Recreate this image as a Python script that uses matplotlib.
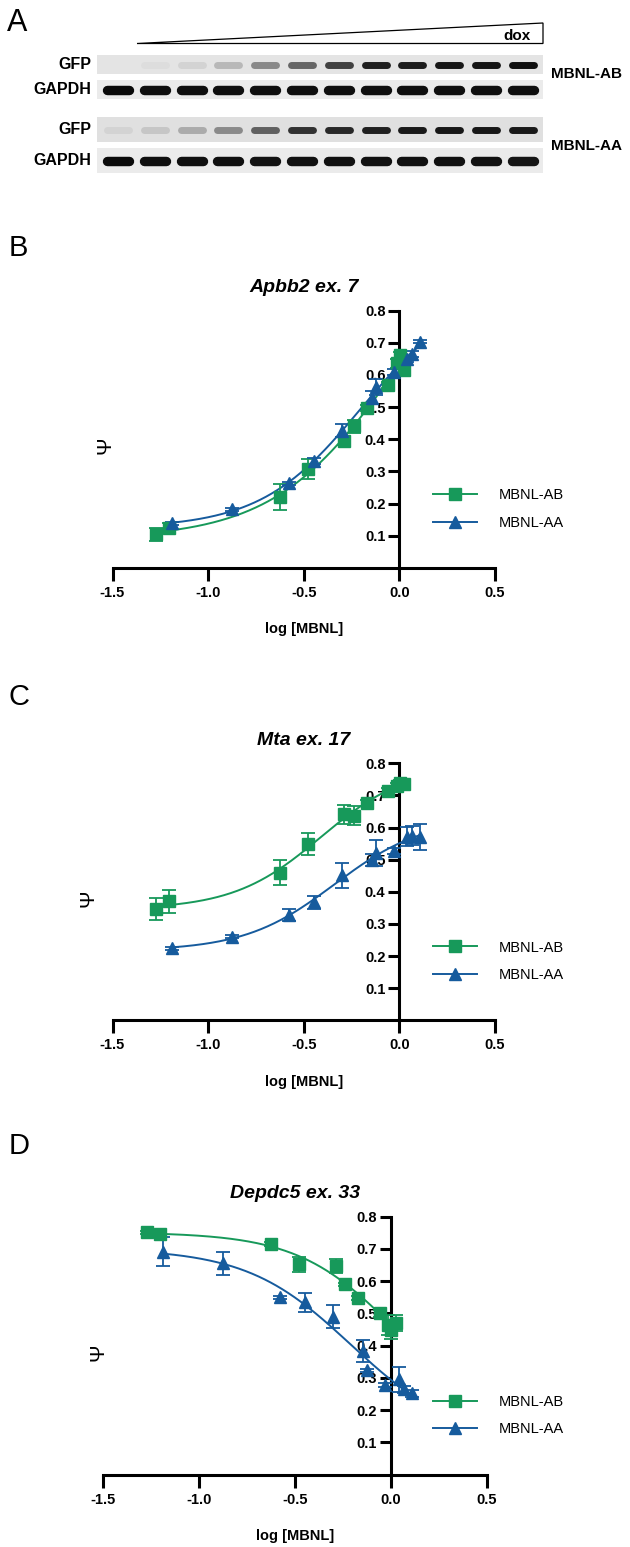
import numpy as np
import matplotlib
matplotlib.use('Agg')
import matplotlib.pyplot as plt
from matplotlib.lines import Line2D
from matplotlib.patches import Polygon

plt.rcParams['font.family'] = ['Liberation Sans', 'DejaVu Sans']

W, H = 630, 1547
GREEN = '#17995a'
BLUE = '#165b9d'

# ---- panel A: western blot (band intensity, 0 = none, 1 = saturated) ----
lanes = np.arange(12)
gfp_ab = [0.0, 0.03, 0.08, 0.2, 0.42, 0.58, 0.75, 0.9, 0.92, 0.94, 0.95, 0.98]
gapdh_ab = [1.0, 0.98, 0.98, 0.98, 0.98, 0.98, 0.98, 0.98, 0.98, 0.98, 0.98, 0.98]
gfp_aa = [0.06, 0.12, 0.25, 0.4, 0.6, 0.82, 0.86, 0.9, 0.93, 0.94, 0.94, 0.93]
gapdh_aa = [1.0, 0.98, 0.98, 0.98, 0.96, 0.97, 0.97, 0.97, 0.97, 0.97, 0.97, 0.95]

# ---- dose response (log [MBNL]) ----
ab_x = [-1.273, -1.203, -0.625, -0.479, -0.287, -0.237, -0.170, -0.058, -0.015, 0.002, 0.026]
aa_x = [-1.188, -0.877, -0.577, -0.446, -0.300, -0.145, -0.124, -0.030, 0.041, 0.067, 0.110]

apbb2_ab = [0.104, 0.123, 0.221, 0.307, 0.395, 0.441, 0.498, 0.569, 0.636, 0.662, 0.617]
apbb2_ab_err = [0.02, 0.015, 0.04, 0.03, 0.012, 0.02, 0.01, 0.01, 0.015, 0.01, 0.01]
apbb2_aa = [0.138, 0.182, 0.263, 0.332, 0.427, 0.529, 0.563, 0.610, 0.649, 0.665, 0.703]
apbb2_aa_err = [0.005, 0.005, 0.005, 0.01, 0.02, 0.02, 0.025, 0.01, 0.01, 0.01, 0.005]

mta_ab = [0.347, 0.370, 0.460, 0.549, 0.641, 0.637, 0.677, 0.714, 0.730, 0.738, 0.735]
mta_ab_err = [0.035, 0.037, 0.04, 0.035, 0.03, 0.03, 0.01, 0.01, 0.01, 0.01, 0.01]
mta_aa = [0.224, 0.260, 0.328, 0.367, 0.451, 0.499, 0.520, 0.527, 0.572, 0.575, 0.570]
mta_aa_err = [0.005, 0.005, 0.02, 0.02, 0.04, 0.02, 0.04, 0.01, 0.03, 0.03, 0.04]

depdc5_ab = [0.751, 0.745, 0.715, 0.652, 0.648, 0.590, 0.548, 0.500, 0.464, 0.450, 0.471]
depdc5_ab_err = [0.005, 0.005, 0.005, 0.022, 0.022, 0.005, 0.005, 0.01, 0.03, 0.03, 0.025]
depdc5_aa = [0.691, 0.655, 0.550, 0.534, 0.490, 0.383, 0.324, 0.278, 0.295, 0.264, 0.252]
depdc5_aa_err = [0.045, 0.035, 0.005, 0.03, 0.035, 0.034, 0.005, 0.005, 0.04, 0.01, 0.01]


def fit_4pl(x, y):
    """grid search on ec50/hill, linear least squares for bottom/top"""
    x = np.asarray(x)
    y = np.asarray(y)
    c = np.linspace(-1.2, 0.4, 161)[:, None, None]
    h = np.linspace(0.5, 6.0, 111)[None, :, None]
    f = 1.0 / (1.0 + 10 ** ((c - x) * h))
    fm = f.mean(axis=2, keepdims=True)
    ym = y.mean()
    slope = ((f - fm) * (y - ym)).sum(axis=2, keepdims=True) / ((f - fm) ** 2).sum(axis=2, keepdims=True)
    icpt = ym - slope * fm
    r = ((icpt + slope * f - y) ** 2).sum(axis=2)
    i, j = np.unravel_index(np.argmin(r), r.shape)
    cc, hh = c[i, 0, 0], h[0, j, 0]
    a, b = icpt[i, j, 0], slope[i, j, 0]
    return lambda t: a + b / (1.0 + 10 ** ((cc - t) * hh))


fig = plt.figure(figsize=(W / 100, H / 100), dpi=100)


def px_axes(x0, y0, x1, y1):
    return fig.add_axes([x0 / W, 1 - y1 / H, (x1 - x0) / W, (y1 - y0) / H])


# ---------------- panel A ----------------
axA = px_axes(0, 0, W, 190)
axA.set_xlim(0, W)
axA.set_ylim(190, 0)
axA.axis('off')
axA.add_patch(Polygon([[137, 43.5], [543, 23], [543, 43.5]], closed=True,
                      facecolor='white', edgecolor='black', lw=0.9))
axA.text(503, 40, 'dox', fontsize=11, fontweight='bold', va='baseline')
axA.text(551, 73.5, 'MBNL-AB', fontsize=11, fontweight='bold', va='center')
axA.text(551, 146, 'MBNL-AA', fontsize=11, fontweight='bold', va='center')

strips = [
    ('GFP', gfp_ab, 55, 74, '#e4e4e4', 5.0),
    ('GAPDH', gapdh_ab, 80, 99, '#ebebeb', 6.8),
    ('GFP', gfp_aa, 117, 142, '#e0e0e0', 5.0),
    ('GAPDH', gapdh_aa, 148, 173, '#ebebeb', 6.8),
]
for name, vals, y0, y1, bg, lw in strips:
    ax = px_axes(97, y0, 543, y1)
    ax.set_facecolor(bg)
    ax.set_xlim(-0.57, 11.55)
    ax.set_ylim(-1, 1)
    for s in ax.spines.values():
        s.set_visible(False)
    ax.set_xticks([])
    ax.set_yticks([])
    bgv = int(bg[1:3], 16) / 255
    cols = [str(bgv * (1 - v) + 0.04 * v) for v in vals]
    lc = ax.hlines(np.zeros(12), lanes - 0.3, lanes + 0.3, colors=cols, linewidth=lw)
    lc.set_capstyle('round')
    ax.text(-0.012, 0.5, name, transform=ax.transAxes, ha='right', va='center',
            fontsize=11.5, fontweight='bold')

fig.text(7 / W, 1 - 31 / H, 'A', fontsize=22, va='baseline')

# ---------------- dose response panels ----------------
panels = [
    ('B', 'Apbb2', ' ex. 7', apbb2_ab, apbb2_ab_err, apbb2_aa, apbb2_aa_err,
     (112.5, 310.7, 495, 567.8), 248, -0.02),
    ('C', 'Mta', ' ex. 17', mta_ab, mta_ab_err, mta_aa, mta_aa_err,
     (112.5, 763.3, 495, 1020.4), 697, -0.065),
    ('D', 'Depdc5', ' ex. 33', depdc5_ab, depdc5_ab_err, depdc5_aa, depdc5_aa_err,
     (103.3, 1216.7, 486.7, 1474.6), 1146, -0.014),
]

for letter, gene, exon, yab, eab, yaa, eaa, box, ly, psi_x in panels:
    ax = px_axes(*box)
    ax.set_xlim(-1.5, 0.5)
    ax.set_ylim(0, 0.8)

    for xs, ys, es, col, mk, ms in [(ab_x, yab, eab, GREEN, 's', 8.5),
                                    (aa_x, yaa, eaa, BLUE, '^', 8.5)]:
        fit = fit_4pl(xs, ys)
        t = np.linspace(min(xs), max(xs), 300)
        ax.plot(t, fit(t), color=col, lw=1.4, zorder=4, clip_on=False)
        ax.errorbar(xs, ys, yerr=es, fmt=mk, color=col, ms=ms, elinewidth=1.3,
                    capsize=5, capthick=1.3, zorder=5, clip_on=False)

    ax.spines['top'].set_visible(False)
    ax.spines['right'].set_visible(False)
    ax.spines['left'].set_position(('data', 0))
    ax.spines['left'].set_linewidth(2.2)
    ax.spines['bottom'].set_linewidth(2.2)
    ax.set_xticks([-1.5, -1.0, -0.5, 0.0, 0.5])
    ax.set_xticklabels(['-1.5', '-1.0', '-0.5', '0.0', '0.5'])
    ax.set_yticks([0.1, 0.2, 0.3, 0.4, 0.5, 0.6, 0.7, 0.8])
    ax.tick_params(axis='x', direction='out', length=9, width=2.2, pad=4,
                   labelsize=10.5)
    ax.tick_params(axis='y', direction='out', length=8, width=2.2, pad=2,
                   labelsize=10.5)
    for lab in ax.get_xticklabels() + ax.get_yticklabels():
        lab.set_fontweight('bold')
    ax.set_xlabel('log [MBNL]', fontsize=10.5, fontweight='bold', labelpad=16)

    ax.text(0.5, 1.09, gene + exon, transform=ax.transAxes, ha='center',
            va='center', fontsize=14, fontweight='bold', style='italic')
    ax.text(psi_x, 0.38, '\u03a8', transform=ax.get_yaxis_transform(),
            rotation=90, ha='center', va='center', fontsize=15)

    handles = [Line2D([0], [0], color=GREEN, marker='s', ms=8, lw=1.4),
               Line2D([0], [0], color=BLUE, marker='^', ms=8.5, lw=1.4)]
    ax.legend(handles, ['MBNL-AB', 'MBNL-AA'], loc='center left',
              bbox_to_anchor=((433 - box[0]) / (box[2] - box[0]), 0.229),
              frameon=False, fontsize=10.5, handlelength=3.0, handletextpad=1.5,
              labelspacing=0.95, borderpad=0, borderaxespad=0, numpoints=1)

    fig.text(9 / W, 1 - ly / H, letter, fontsize=21, va='center')

fig.savefig('out.png', dpi=100)
